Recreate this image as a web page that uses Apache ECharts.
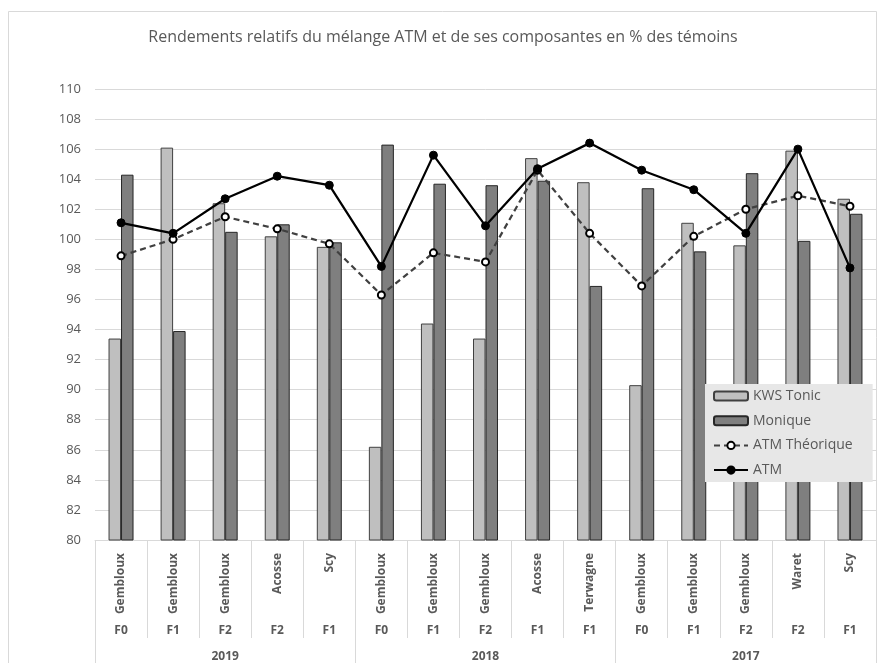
<!DOCTYPE html>
<html>
<head>
<meta charset="utf-8">
<script src="https://cdn.jsdelivr.net/npm/echarts@6/dist/echarts.min.js"></script>
<style>
  html, body { margin: 0; padding: 0; background: #ffffff; }
  #chart { width: 886px; height: 663px; }
</style>
</head>
<body>
<div id="chart"></div>
<script>
// Trial sites, fertilisation level and harvest year for each group of bars
const sites = ['Gembloux', 'Gembloux', 'Gembloux', 'Acosse', 'Scy',
               'Gembloux', 'Gembloux', 'Gembloux', 'Acosse', 'Terwagne',
               'Gembloux', 'Gembloux', 'Gembloux', 'Waret', 'Scy'];
const treatments = ['F0', 'F1', 'F2', 'F2', 'F1',
                    'F0', 'F1', 'F2', 'F1', 'F1',
                    'F0', 'F1', 'F2', 'F2', 'F1'];
const years = ['2019', '2018', '2017'];

// Relative yields (% of controls)
const kwsTonic = [93.4, 106.1, 102.4, 100.2, 99.5, 86.2, 94.4, 93.4, 105.4, 103.8, 90.3, 101.1, 99.6, 105.9, 102.7];
const monique = [104.3, 93.9, 100.5, 101.0, 99.8, 106.3, 103.7, 103.6, 103.9, 96.9, 103.4, 99.2, 104.4, 99.9, 101.7];
const atmTheorique = [98.9, 100.0, 101.5, 100.7, 99.7, 96.3, 99.1, 98.5, 104.6, 100.4, 96.9, 100.2, 102.0, 102.9, 102.2];
const atm = [101.1, 100.4, 102.7, 104.2, 103.6, 98.2, 105.6, 100.9, 104.7, 106.4, 104.6, 103.3, 100.4, 106.0, 98.1];

const textColor = '#595959';
const lineGray = '#d9d9d9';
const font = '"Open Sans", "Noto Sans", sans-serif';

const chart = echarts.init(document.getElementById('chart'), null, { renderer: 'canvas' });

chart.setOption({
  animation: false,
  backgroundColor: '#ffffff',
  textStyle: { fontFamily: font },
  title: {
    text: 'Rendements relatifs du mélange ATM et de ses composantes en % des témoins',
    left: 'center',
    top: 24,
    textStyle: { fontFamily: font, fontSize: 16, fontWeight: 'normal', color: textColor }
  },
  graphic: [{
    type: 'rect',
    silent: true,
    z: -10,
    shape: { x: 8.5, y: 11.5, width: 868, height: 700 },
    style: { fill: 'none', stroke: lineGray, lineWidth: 1 }
  }],
  legend: {
    orient: 'vertical',
    left: 705,
    top: 384,
    padding: [4, 20, 4, 8],
    backgroundColor: '#e7e7e7',
    itemWidth: 34,
    itemHeight: 9,
    itemGap: 8.7,
    textStyle: { fontFamily: font, fontSize: 14, color: textColor, lineHeight: 16 },
    data: ['KWS Tonic', 'Monique', 'ATM Théorique', 'ATM']
  },
  grid: { left: 95, right: 10, top: 89, bottom: 122, containLabel: false },
  xAxis: [
    {
      type: 'category',
      data: sites,
      axisLine: { show: true, lineStyle: { color: lineGray, width: 1 } },
      axisTick: { show: true, interval: 0, length: 98, lineStyle: { color: lineGray } },
      axisLabel: {
        interval: 0, rotate: 90, margin: 13,
        fontFamily: font, fontSize: 12, fontWeight: 'bold', color: textColor
      },
      splitLine: { show: false }
    },
    {
      type: 'category',
      data: treatments,
      position: 'bottom',
      axisLine: { show: false },
      axisTick: { show: false },
      axisLabel: {
        interval: 0, margin: 85,
        fontFamily: font, fontSize: 12, fontWeight: 'bold', color: textColor
      },
      splitLine: { show: false }
    },
    {
      type: 'category',
      data: years,
      position: 'bottom',
      axisLine: { show: false },
      axisTick: { show: true, interval: 0, length: 130, lineStyle: { color: lineGray } },
      axisLabel: {
        interval: 0, margin: 111,
        fontFamily: font, fontSize: 12, fontWeight: 'bold', color: textColor
      },
      splitLine: { show: false }
    }
  ],
  yAxis: {
    type: 'value',
    min: 80,
    max: 110,
    interval: 2,
    axisLine: { show: false },
    axisTick: { show: false },
    axisLabel: { margin: 14, fontFamily: font, fontSize: 13, color: textColor },
    splitLine: { show: true, lineStyle: { color: lineGray, width: 1 } }
  },
  series: [
    {
      name: 'KWS Tonic',
      type: 'bar',
      xAxisIndex: 0,
      data: kwsTonic,
      barWidth: '24%',
      barGap: '0%',
      itemStyle: { color: '#bfbfbf', borderColor: '#404040', borderWidth: 1 }
    },
    {
      name: 'Monique',
      type: 'bar',
      xAxisIndex: 0,
      data: monique,
      barWidth: '24%',
      barGap: '0%',
      itemStyle: { color: '#7f7f7f', borderColor: '#262626', borderWidth: 1 }
    },
    {
      name: 'ATM Théorique',
      type: 'line',
      xAxisIndex: 0,
      data: atmTheorique,
      symbol: 'circle',
      symbolSize: 7,
      z: 3,
      lineStyle: { color: '#404040', width: 2.25, type: [6, 4] },
      itemStyle: { color: '#ffffff', borderColor: '#000000', borderWidth: 2 }
    },
    {
      name: 'ATM',
      type: 'line',
      xAxisIndex: 0,
      data: atm,
      symbol: 'circle',
      symbolSize: 8,
      z: 4,
      lineStyle: { color: '#000000', width: 2.25 },
      itemStyle: { color: '#000000', borderColor: '#000000', borderWidth: 1 }
    }
  ]
});
</script>
</body>
</html>
